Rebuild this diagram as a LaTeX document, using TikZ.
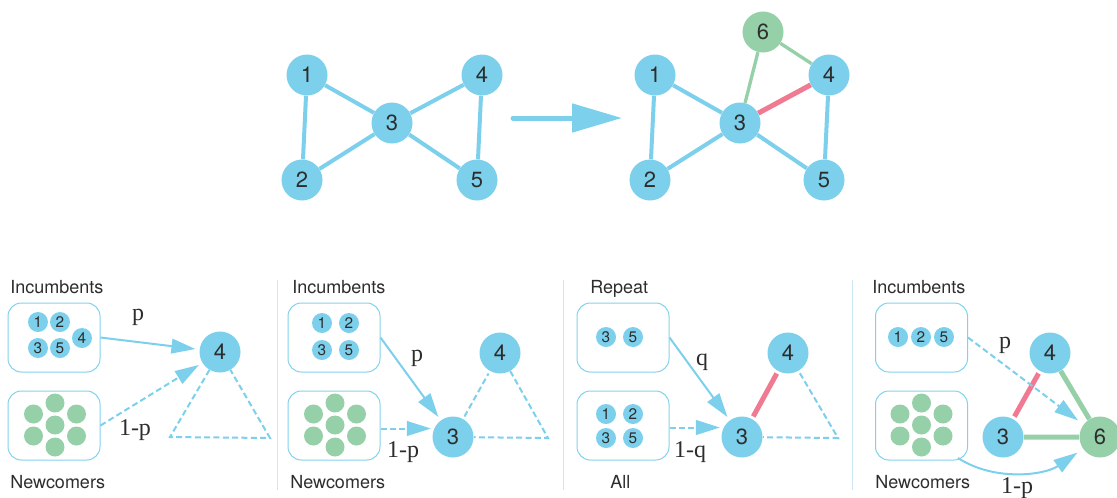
\documentclass[tikz,border=0pt]{standalone}
\usepackage{fontspec}
\setsansfont{TeX Gyre Heros}
\newfontfamily\probfont{Liberation Serif}
\usetikzlibrary{arrows.meta}

\definecolor{nodeblue}{RGB}{124,208,236}
\definecolor{nodegreen}{RGB}{150,208,168}
\definecolor{linkpink}{RGB}{240,122,146}
\definecolor{poolblue}{RGB}{130,210,236}
\definecolor{rulegray}{RGB}{205,232,242}
\definecolor{ink}{RGB}{45,45,45}

\tikzset{
  big/.style={circle, fill=nodeblue, minimum size=30.75pt, inner sep=0pt,
    text=ink, font=\sffamily\fontsize{16.5}{16.5}\selectfont},
  bignew/.style={big, fill=nodegreen},
  small/.style={circle, fill=nodeblue, minimum size=15pt, inner sep=0pt,
    text=ink, font=\sffamily\fontsize{11.5}{11.5}\selectfont},
  dot/.style={circle, fill=nodegreen, minimum size=14.25pt, inner sep=0pt},
  pool/.style={draw=poolblue, line width=0.75pt, rounded corners=10pt,
    minimum width=69pt, minimum height=51.75pt, inner sep=0pt},
  title/.style={anchor=base west, inner sep=0pt, text=ink,
    font=\sffamily\fontsize{13.5}{13.5}\selectfont},
  prob/.style={inner sep=0pt, text=ink, font=\probfont\fontsize{18}{18}\selectfont},
  edge/.style={draw=nodeblue, line width=3pt},
  newedge/.style={draw=nodegreen, line width=2.5pt},
  newlink/.style={draw=linkpink, line width=3.75pt},
  newedgeb/.style={draw=nodegreen, line width=3.75pt},
  flow/.style={draw=nodeblue, line width=1.5pt,
    -{Triangle[length=18pt,width=11pt]}, shorten >=3pt},
  dashline/.style={draw=nodeblue, line width=1.5pt, dash pattern=on 4.5pt off 2.5pt},
  divider/.style={draw=rulegray, line width=0.75pt},
}

% green cluster of newcomers around a centre
\newcommand\newcomerdots[2]{%
  \begin{scope}[shift={#2}]
    \node[dot] (#1-c) at (0,0) {};
    \node[dot] (#1-t) at (0,-22) {};
    \node[dot] (#1-b) at (0,22) {};
    \node[dot] (#1-tl) at (-21.5,-11) {};
    \node[dot] (#1-tr) at (21.5,-11) {};
    \node[dot] (#1-bl) at (-21.5,11) {};
    \node[dot] (#1-br) at (21.5,11) {};
  \end{scope}}

\begin{document}
\begin{tikzpicture}[x=0.75pt,y=-0.75pt]
\useasboundingbox (0,0) rectangle (1117,497);

% ---------- network before ----------
\node[big] (a1) at (307,75) {1};
\node[big] (a2) at (302,180) {2};
\node[big] (a3) at (392,123) {3};
\node[big] (a4) at (482,75) {4};
\node[big] (a5) at (477,180) {5};
\draw[edge] (a1)--(a2) (a1)--(a3) (a2)--(a3) (a3)--(a4) (a3)--(a5) (a4)--(a5);

% ---------- transition arrow ----------
\coordinate (arrS) at (513,118);
\coordinate (arrE) at (622,118);
\draw[draw=nodeblue, fill=nodeblue, line width=3.75pt, line cap=round,
  -{Triangle[length=37.5pt,width=21pt]}] (arrS) -- (arrE);

% ---------- network after ----------
\node[big] (b1) at (655,75) {1};
\node[big] (b2) at (650,180) {2};
\node[big] (b3) at (740,123) {3};
\node[big] (b4) at (829,75) {4};
\node[big] (b5) at (824,180) {5};
\node[bignew] (b6) at (763,32) {6};
\draw[edge] (b1)--(b2) (b1)--(b3) (b2)--(b3) (b3)--(b5) (b4)--(b5);
\draw[newedge] (b3)--(b6) (b6)--(b4);
\draw[newlink] (b3)--(b4);

% ---------- dividers ----------
\foreach \x/\n in {277/1,563/2,852/3}{
  \coordinate (d\n t) at (\x,280);
  \coordinate (d\n b) at (\x,490);
  \draw[divider] (d\n t) -- (d\n b);
}

% ---------- panel 1 ----------
\node[title] (p1title) at (10,293.5) {Incumbents};
\node[title] (p1foot) at (10,488.5) {Newcomers};
\node[pool] (p1i) at (54,337.5) {};
\node[pool] (p1n) at (54,425.5) {};
\node[small] (p1s1) at (38,322) {1};
\node[small] (p1s2) at (60,322) {2};
\node[small] (p1s3) at (38,348) {3};
\node[small] (p1s5) at (60,348) {5};
\node[small] (p1s4) at (82,338) {4};
\newcomerdots{p1d}{(55,425)}
\node[big] (p1four) at (220,352) {4};
\coordinate (p1l) at (170,437);
\coordinate (p1r) at (270,438);
\draw[flow] (p1i.east) -- (p1four);
\draw[flow, dash pattern=on 4.5pt off 2.5pt] (p1n.east) -- (p1four);
\draw[dashline] (p1four) -- (p1l) -- (p1r) -- (p1four);
\node[prob] (p1p) at (138,317) {p};
\node[prob] (p1q) at (135,430) {1-p};

% ---------- panel 2 ----------
\node[title] (p2title) at (292,293.5) {Incumbents};
\node[title] (p2foot) at (290,488.5) {Newcomers};
\node[pool] (p2i) at (334,337.5) {};
\node[pool] (p2n) at (334,425.5) {};
\node[small] (p2s1) at (322,323) {1};
\node[small] (p2s2) at (349,323) {2};
\node[small] (p2s3) at (322,350) {3};
\node[small] (p2s5) at (349,350) {5};
\newcomerdots{p2d}{(335,425)}
\node[big] (p2three) at (453,437) {3};
\node[big] (p2four) at (500,353) {4};
\coordinate (p2r) at (548,438);
\draw[flow] (p2i.east) -- (p2three);
\draw[flow, dash pattern=on 4.5pt off 2.5pt, shorten >=1pt]
  ([yshift=-2.25pt]p2n.east) -- ([yshift=-2.25pt]p2n.east -| p2three.west);
\draw[dashline, shorten <=2pt, shorten >=2pt] (p2three) -- (p2four);
\draw[dashline] (p2four) -- (p2r) -- (p2three);
\node[prob] (p2p) at (417,358) {p};
\node[prob] (p2q) at (403,452) {1-p};

% ---------- panel 3 ----------
\node[title] (p3title) at (590,293.5) {Repeat};
\node[title] (p3foot) at (610,488.5) {All};
\node[pool] (p3i) at (623,337.5) {};
\node[pool] (p3n) at (623,425.5) {};
\node[small] (p3r3) at (606,337) {3};
\node[small] (p3r5) at (633,337) {5};
\node[small] (p3s1) at (606,414) {1};
\node[small] (p3s2) at (633,414) {2};
\node[small] (p3s3) at (606,438) {3};
\node[small] (p3s5) at (633,438) {5};
\node[big] (p3three) at (742,437) {3};
\node[big] (p3four) at (788,353) {4};
\coordinate (p3r) at (838,438);
\draw[flow] (p3i.east) -- (p3three);
\draw[flow, dash pattern=on 4.5pt off 2.5pt, shorten >=1pt]
  ([yshift=-1.5pt]p3n.east) -- ([yshift=-1.5pt]p3n.east -| p3three.west);
\draw[newlink, shorten <=2pt, shorten >=2pt] (p3three) -- (p3four);
\draw[dashline, shorten <=2pt] (p3four) -- (p3r) -- (p3three);
\node[prob] (p3p) at (702,362) {q};
\node[prob] (p3q) at (690,452) {1-q};

% ---------- panel 4 ----------
\node[title] (p4title) at (872,293.5) {Incumbents};
\node[title] (p4foot) at (875,488.5) {Newcomers};
\node[pool] (p4i) at (921.5,337.5) {};
\node[pool] (p4n) at (921.5,425.5) {};
\node[small] (p4s1) at (898,337) {1};
\node[small] (p4s2) at (921,337) {2};
\node[small] (p4s5) at (944,337) {5};
\newcomerdots{p4d}{(921.5,425)}
\node[big] (p4four) at (1050,353) {4};
\node[big] (p4three) at (1003,437) {3};
\node[bignew] (p4six) at (1100,437) {6};
\draw[newlink, shorten <=2pt, shorten >=2pt] (p4three) -- (p4four);
\draw[newedgeb] (p4four) -- (p4six) (p4three) -- (p4six);
\draw[flow, dash pattern=on 4.5pt off 2.5pt, shorten >=5pt] (p4i.east) -- (p4six);
\coordinate (p4c) at (958,458);
\draw[flow, shorten >=5pt] (p4c) .. controls (995,482) and (1045,475) .. (p4six);
\node[prob] (p4p) at (1005,345) {p};
\node[prob] (p4q) at (1017,488) {1-p};
\end{tikzpicture}
\end{document}
